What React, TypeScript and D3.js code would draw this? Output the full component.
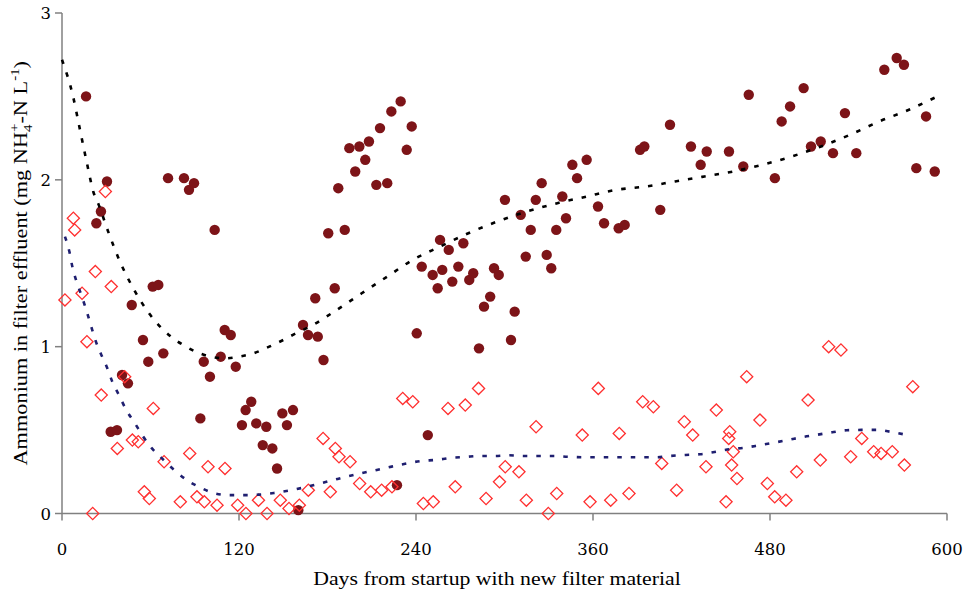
import React from 'react';
import * as d3 from 'd3';

const filledDays = [16.3,23.3,26.4,30.5,33.0,37.3,40.7,44.7,47.3,54.9,58.5,61.5,65.3,68.7,71.9,82.7,86.1,89.5,93.8,96.1,100.3,103.5,107.6,110.3,114.4,117.8,122.0,124.5,128.3,131.7,136.1,138.5,142.6,145.8,149.4,152.5,156.6,160.2,163.4,166.8,171.7,173.4,177.3,180.5,184.9,187.3,191.7,194.8,198.8,201.6,205.6,208.1,213.1,215.6,220.5,223.3,227.1,229.6,233.7,237.1,240.5,243.9,248.0,251.3,254.7,256.3,257.8,262.2,264.6,268.7,272.1,276.1,278.8,282.7,286.1,290.3,292.9,296.1,300.3,304.4,306.9,311.0,314.4,317.8,321.2,325.2,328.6,331.7,335.1,339.2,341.7,346.0,349.2,355.7,363.4,367.5,377.4,381.5,391.9,394.8,405.6,412.2,426.4,433.0,437.1,452.2,461.9,465.6,483.3,487.9,493.6,502.8,507.8,514.4,522.7,530.8,538.5,557.5,565.9,570.8,579.2,585.8,591.7];
const filledValues = [2.50,1.74,1.81,1.99,0.49,0.50,0.83,0.78,1.25,1.04,0.91,1.36,1.37,0.96,2.01,2.01,1.94,1.98,0.57,0.91,0.82,1.70,0.94,1.10,1.07,0.88,0.53,0.62,0.67,0.54,0.41,0.52,0.39,0.27,0.60,0.53,0.62,0.02,1.13,1.07,1.29,1.06,0.92,1.68,1.35,1.95,1.70,2.19,2.05,2.20,2.12,2.23,1.97,2.31,1.98,2.41,0.17,2.47,2.18,2.32,1.08,1.48,0.47,1.43,1.35,1.64,1.46,1.58,1.39,1.48,1.62,1.40,1.44,0.99,1.24,1.30,1.47,1.43,1.88,1.04,1.21,1.79,1.54,1.70,1.88,1.98,1.55,1.47,1.70,1.90,1.77,2.09,2.01,2.12,1.84,1.74,1.71,1.73,2.18,2.20,1.82,2.33,2.20,2.09,2.17,2.17,2.08,2.51,2.01,2.35,2.44,2.55,2.20,2.23,2.16,2.40,2.16,2.66,2.73,2.69,2.07,2.38,2.05];

const openDays = [2.0,7.7,8.6,13.6,16.9,20.8,22.6,26.6,29.4,33.4,37.5,42.5,47.7,51.7,55.8,59.2,61.9,69.2,80.2,86.6,91.5,96.5,99.0,105.1,110.5,119.1,124.7,133.2,139.0,148.0,153.9,160.9,167.0,177.0,181.9,185.3,187.8,195.3,201.8,209.3,216.7,223.7,231.0,237.8,245.0,251.7,261.7,266.6,273.4,282.4,287.5,296.6,300.5,309.8,314.8,321.4,329.7,335.4,352.7,358.0,363.6,372.0,377.8,384.4,393.7,400.9,406.6,416.7,421.9,427.6,436.6,443.6,450.2,452.0,452.7,454.0,455.1,457.6,464.2,473.2,478.2,483.2,490.8,498.1,505.8,514.1,519.8,528.1,534.7,542.2,550.3,555.3,562.9,571.1,576.8];
const openValues = [1.28,1.77,1.70,1.32,1.03,0.00,1.45,0.71,1.93,1.36,0.39,0.82,0.44,0.43,0.13,0.09,0.63,0.31,0.07,0.36,0.10,0.07,0.28,0.05,0.27,0.05,0.00,0.08,0.00,0.08,0.03,0.05,0.14,0.45,0.13,0.39,0.34,0.31,0.18,0.13,0.14,0.16,0.69,0.67,0.06,0.07,0.63,0.16,0.65,0.75,0.09,0.19,0.28,0.25,0.08,0.52,0.00,0.12,0.47,0.07,0.75,0.08,0.48,0.12,0.67,0.64,0.30,0.14,0.55,0.47,0.28,0.62,0.07,0.45,0.49,0.29,0.37,0.21,0.82,0.56,0.18,0.10,0.08,0.25,0.68,0.32,1.00,0.98,0.34,0.45,0.37,0.36,0.37,0.29,0.76];

const trendFilledDays = [0,7.5,12.2,16.9,21.2,24.9,31.7,39.3,48.3,59,73.9,82.2,90.6,100.8,110,119.8,129.7,140.5,150,158.6,168.1,186.2,203.2,220.5,237.8,256.3,275.5,295.1,315,335.8,355.7,375.8,395.7,415.6,435.5,455.1,474.8,494.7,514.6,534.2,554.1,574.2,593.4];
const trendFilledValues = [2.72,2.50,2.30,2.10,1.93,1.85,1.68,1.51,1.35,1.20,1.06,1.01,0.97,0.94,0.93,0.94,0.96,1.00,1.04,1.08,1.12,1.22,1.32,1.42,1.52,1.60,1.68,1.75,1.81,1.86,1.90,1.94,1.96,1.99,2.02,2.05,2.09,2.14,2.20,2.27,2.35,2.42,2.50];

const trendOpenDays = [2.0,5.0,7.0,9.5,13.1,16.1,19.5,22.6,26.2,30.3,34.1,38.6,43.6,49.5,55.1,61.0,67.8,76.1,84.7,94.0,103.9,114.4,124.1,133.6,143.7,153.9,163.6,173.8,183.7,193.7,203.6,213.4,223.5,233.7,243.6,253.4,263.5,273.4,283.4,293.6,303.3,313.2,323,333,343.3,353,363,373,383,393,402.7,412.7,422.8,432.5,442.4,452.4,462.4,472.7,482.2,492.4,502.6,512.1,522.2,532,542.2,552.3,562.2,572.7];
const trendOpenValues = [1.66,1.57,1.48,1.40,1.31,1.23,1.13,1.04,0.96,0.88,0.79,0.71,0.62,0.54,0.46,0.39,0.33,0.26,0.20,0.155,0.12,0.11,0.11,0.113,0.123,0.137,0.155,0.177,0.20,0.223,0.243,0.261,0.281,0.30,0.315,0.321,0.333,0.339,0.345,0.345,0.349,0.345,0.345,0.345,0.340,0.337,0.337,0.337,0.337,0.337,0.337,0.345,0.351,0.355,0.369,0.385,0.394,0.409,0.424,0.441,0.459,0.472,0.487,0.499,0.501,0.501,0.489,0.471];

const xTicks = [0, 120, 240, 360, 480, 600];
const yTicks = [0, 1, 2, 3];
const xTitle = 'Days from startup with new filter material';

const TICK_FONT = "'DejaVu Serif', 'Liberation Serif', serif";
const TITLE_FONT = "'Liberation Serif', 'DejaVu Serif', serif";
const AXIS = '#808080';

export default function App() {
  const W = 967, H = 597;
  const x = d3.scaleLinear().domain([0, 600]).range([62, 947]);
  const y = d3.scaleLinear().domain([0, 3]).range([513.5, 13]);
  const line = d3.line<[number, number]>().x(d => x(d[0])).y(d => y(d[1])).curve(d3.curveMonotoneX);
  const blackPath = line(trendFilledDays.map((d, i) => [d, trendFilledValues[i]]) as [number, number][]) || '';
  const bluePath = line(trendOpenDays.map((d, i) => [d, trendOpenValues[i]]) as [number, number][]) || '';
  const diamond = d3.symbol().type(d3.symbolSquare).size(74)() || '';

  return (
    <svg width={W} height={H} style={{ position: 'absolute', left: 0, top: 0, background: '#fff' }}>
      <rect width={W} height={H} fill="#fff" />
      {/* axes */}
      <line x1={x(0)} x2={x(0)} y1={y(3)} y2={y(0)} stroke={AXIS} strokeWidth={1.5} />
      <line x1={x(0)} x2={x(600)} y1={y(0)} y2={y(0)} stroke={AXIS} strokeWidth={1.5} />
      {yTicks.map(t => (
        <g key={'y' + t}>
          <line x1={x(0) - 7} x2={x(0)} y1={y(t)} y2={y(t)} stroke={AXIS} strokeWidth={1.5} />
          <text x={51} y={y(t) + 6} fontSize={16.5} fontFamily={TICK_FONT} textAnchor="end" fill="#000">{t}</text>
        </g>
      ))}
      {xTicks.map(t => (
        <g key={'x' + t}>
          <line x1={x(t)} x2={x(t)} y1={y(0)} y2={y(0) + 7} stroke={AXIS} strokeWidth={1.5} />
          <text x={x(t)} y={555} fontSize={16.5} fontFamily={TICK_FONT} textAnchor="middle" fill="#000">{t}</text>
        </g>
      ))}
      {/* filled circles */}
      {filledDays.map((d, i) => (
        <circle key={'f' + i} cx={x(d)} cy={y(filledValues[i])} r={5.2} fill="#7d1418" />
      ))}
      {/* open diamonds */}
      {openDays.map((d, i) => (
        <path key={'o' + i} d={diamond} transform={`translate(${x(d)},${y(openValues[i])}) rotate(45)`} fill="none" stroke="#ff3030" strokeWidth={1.3} />
      ))}
      {/* trendlines */}
      <path d={blackPath} fill="none" stroke="#000" strokeWidth={2.6} strokeDasharray="4.5 9" />
      <path d={bluePath} fill="none" stroke="#1f1f70" strokeWidth={2.6} strokeDasharray="4.5 9" />
      {/* titles */}
      <text transform="translate(497,585) scale(1.21,1)" fontSize={18} fontFamily={TITLE_FONT} textAnchor="middle" fill="#000">{xTitle}</text>
      <text transform={`translate(27,${(y(0) + y(3)) / 2}) rotate(-90) scale(1.24,1)`} fontSize={18} fontFamily={TITLE_FONT} textAnchor="middle" fill="#000">
        <tspan>Ammonium in filter effluent (mg NH</tspan>
        <tspan fontSize={12} dy={5}>4</tspan>
        <tspan fontSize={12} dx={-6} dy={-13}>+</tspan>
        <tspan dy={8}>-N L</tspan>
        <tspan fontSize={12} dy={-8}>-1</tspan>
        <tspan dy={8}>)</tspan>
      </text>
    </svg>
  );
}
